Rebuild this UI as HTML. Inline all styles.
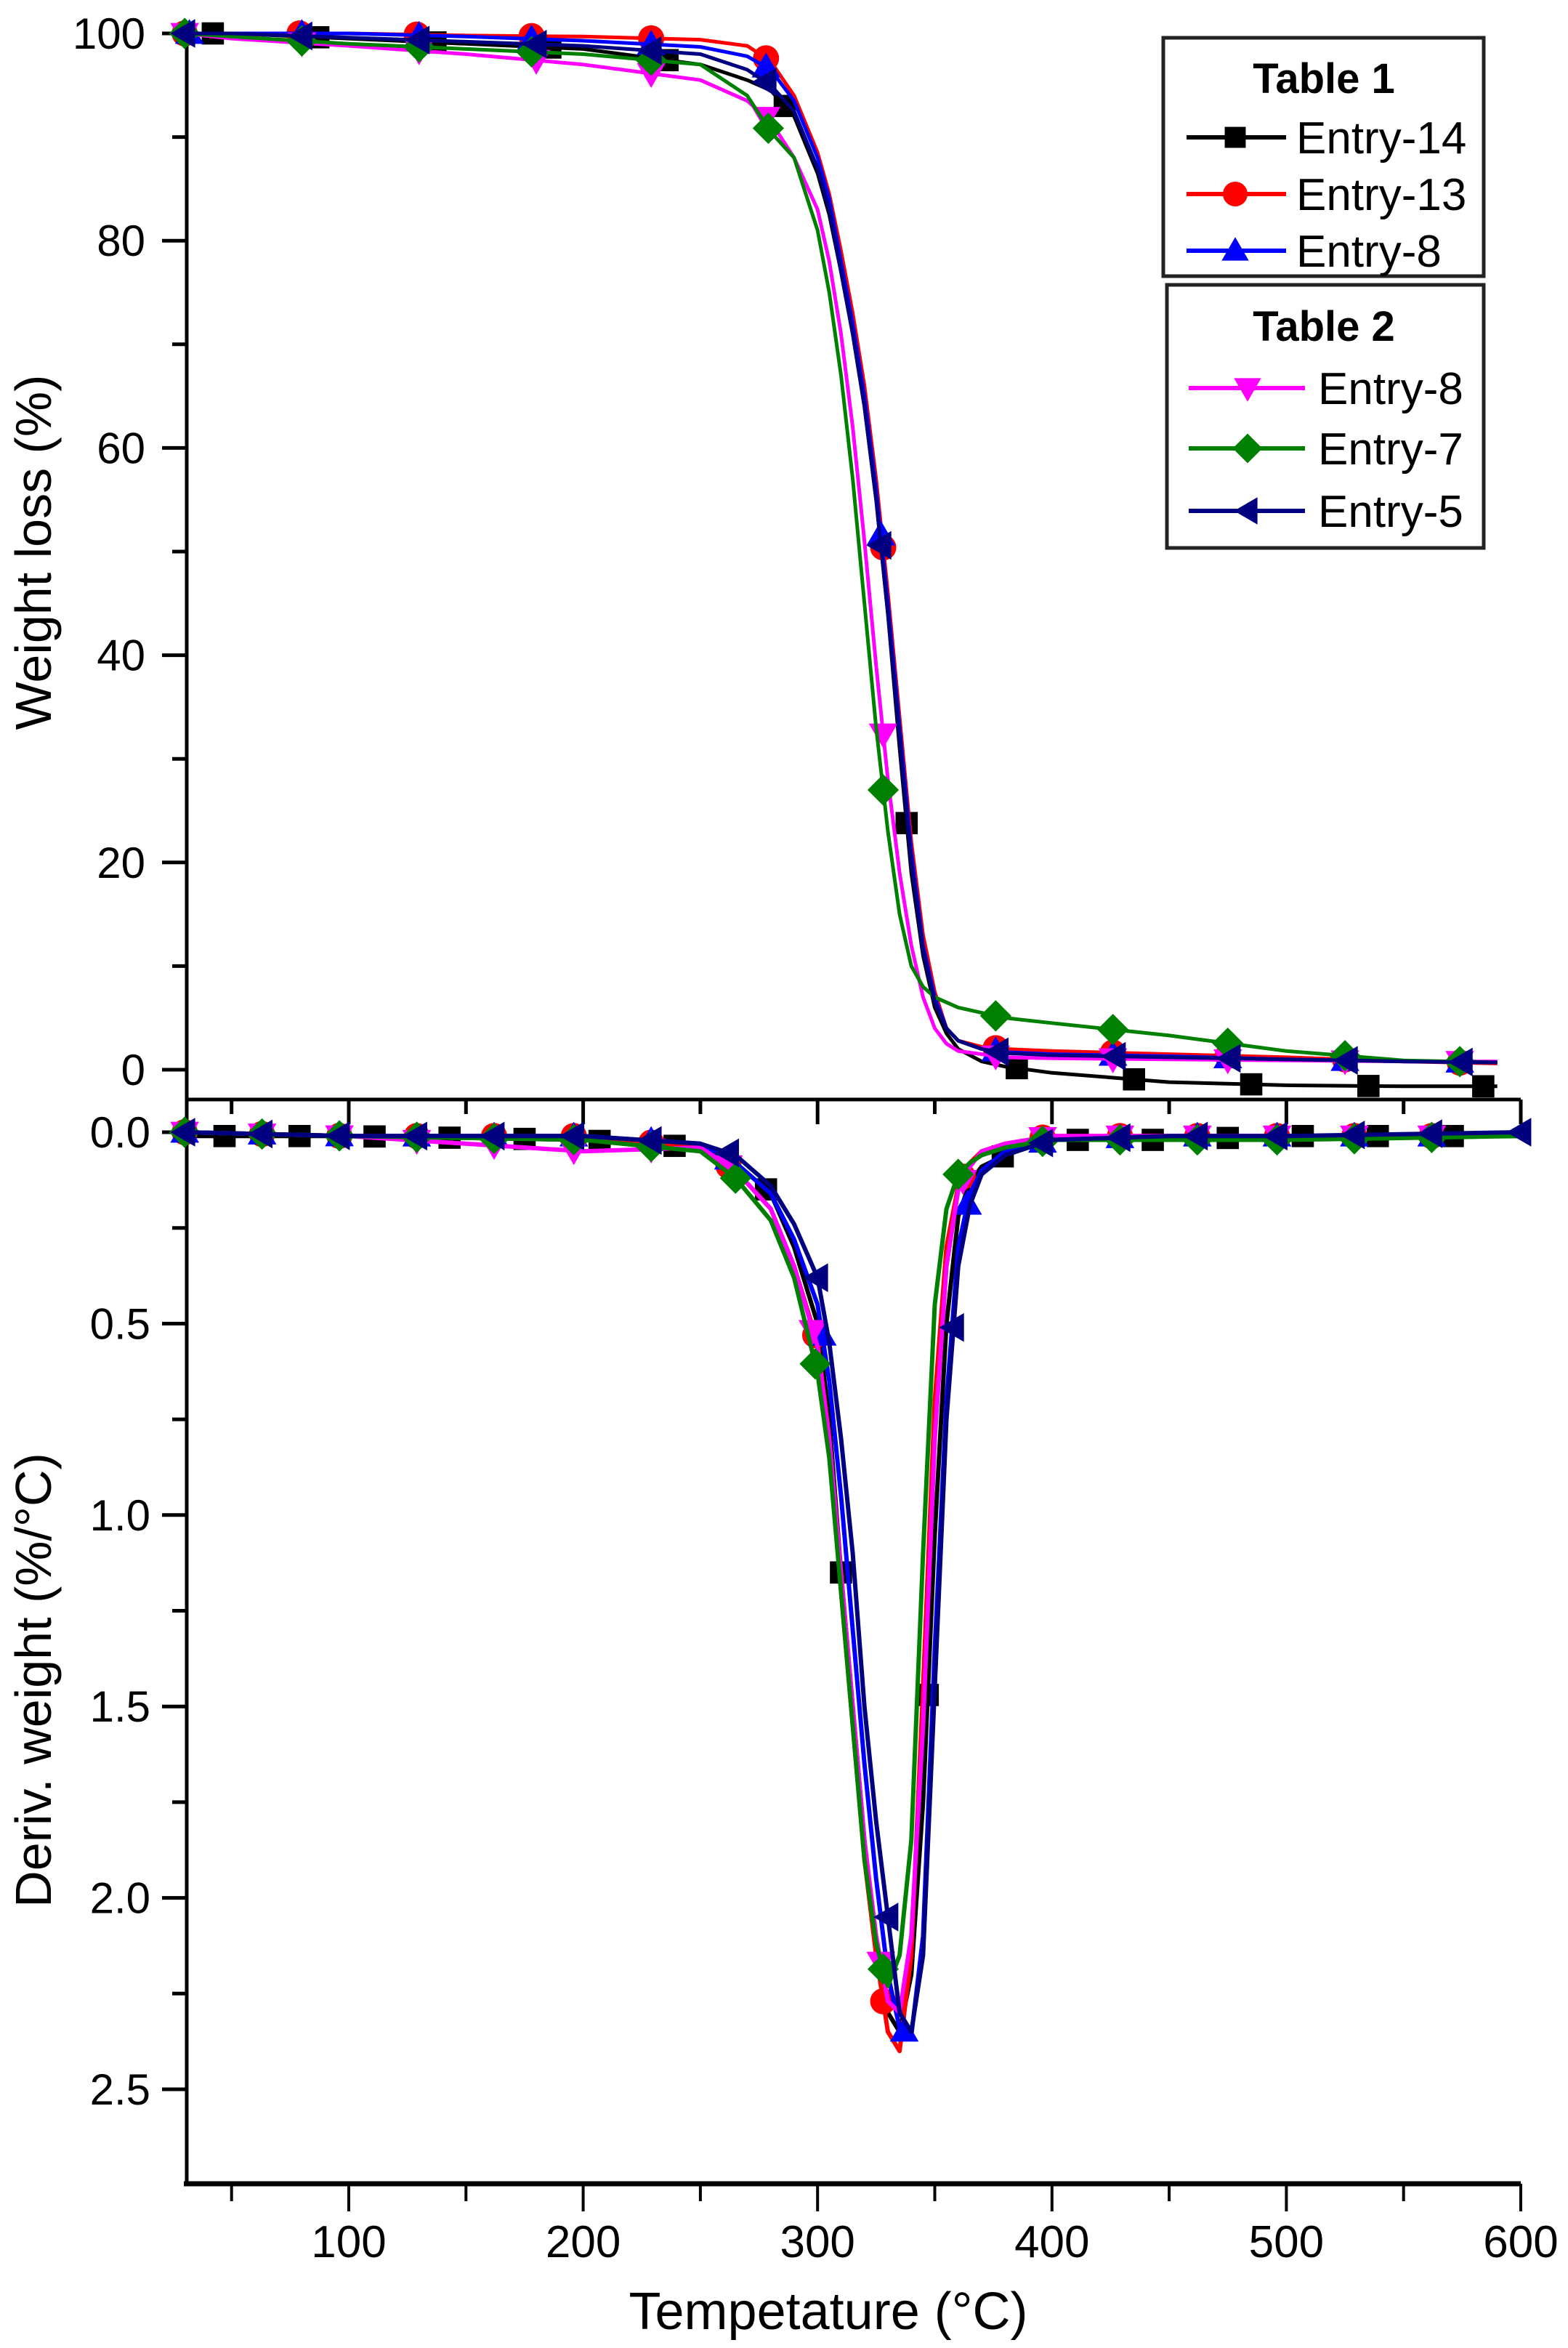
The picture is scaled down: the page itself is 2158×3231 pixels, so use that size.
<!DOCTYPE html>
<html><head><meta charset="utf-8"><style>
html,body{margin:0;padding:0;background:#fff;}
svg{display:block;font-family:"Liberation Sans",Arial,sans-serif;}
</style></head><body>
<svg id="chart" width="2158" height="3231" viewBox="0 0 2158 3231" xmlns="http://www.w3.org/2000/svg">
<g id="axes"></g>
<g id="series"></g>
<g id="legend"></g>
<text transform="translate(70,760) rotate(-90)" text-anchor="middle" font-size="70">Weight loss (%)</text>
<text transform="translate(70,2312) rotate(-90)" text-anchor="middle" font-size="70">Deriv. weight (%/°C)</text>
<text x="1140" y="3205" text-anchor="middle" font-size="72">Tempetature (°C)</text>
</svg>
<script>
// ---- data ----
const seriesNames = ["Entry-14","Entry-13","Entry-8 (T1)","Entry-8 (T2)","Entry-7","Entry-5"];
const seriesColors = ["#000000","#ff0000","#0000ff","#ff00ff","#008000","#000080"];
const seriesMarkers = ["square","circle","up","down","diamond","left"];

const tgaTemps = [30,50,100,150,200,250,270,280,290,300,305,310,315,320,325,330,335,340,345,350,355,360,370,380,400,450,500,550,590];
const tgaBlack   = [100,100,99.5,99,98.5,97,95.5,94.5,92,86.5,82.5,77,71,64,55,44,31,19,11,6,3.5,2,0.8,0.3,-0.3,-1.2,-1.5,-1.6,-1.6];
const tgaRed     = [100,100,100,99.8,99.7,99.4,98.8,97.3,94,88.5,84.5,79,73,66,57,46,34,22,13,7.5,4,2.8,2.2,2,1.8,1.5,1.2,0.8,0.6];
const tgaBlue    = [100,100,100,99.7,99.3,98.7,97.8,96.5,93.5,88,84,78,72,65,56,45,33,21,12,7,4,2.8,2,1.7,1.5,1.3,1,0.8,0.7];
const tgaMagenta = [100,99.5,98.8,98,97,95.5,93.5,91.5,88,83,78,71,62,51,39,28,19,12,7,4,2.5,1.8,1.5,1.2,1.1,1,0.9,0.8,0.8];
const tgaGreen   = [100,99.7,99,98.5,98,97,94,90.5,88,81,75,67,57,45,33,23,15,10,8,7,6.5,6,5.5,5,4.5,3.3,1.8,0.9,0.7];
const tgaNavy    = [100,100,99.6,99.2,98.8,98,96.5,95,92.5,87,83,77,71,64,55,44,32,20,11.5,6.5,4,2.8,2,1.6,1.4,1.2,1,0.8,0.7];
const tgaSeries = [tgaBlack,tgaRed,tgaBlue,tgaMagenta,tgaGreen,tgaNavy];
const tgaMarkerTemps = [
  [42,87,137,186,236,286,338,385,435,485,535,584],
  [30,79,129,178,229,278,328,376,426,475,525,574],
  [32,80,130,178,229,278,327,376,426,475,525,574],
  [30,80,130,180,229,278,328,376,426,475,525,574],
  [30,80,130,178,229,279,328,376,426,475,525,574],
  [30,80,130,180,229,278,327,377,427,476,526,575]
];

const dtgTemps = [30,100,200,250,265,280,290,300,305,310,315,320,325,330,335,340,345,350,355,360,365,370,380,400,450,500,600];
const dtgBlack   = [0.01,0.01,0.02,0.04,0.08,0.16,0.3,0.5,0.75,1.15,1.5,1.85,2.12,2.3,2.35,2.2,1.75,1.05,0.5,0.22,0.13,0.09,0.06,0.02,0.02,0.01,0.01];
const dtgRed     = [0.0,0.01,0.01,0.04,0.1,0.2,0.35,0.55,0.8,1.2,1.55,1.9,2.15,2.35,2.4,2.15,1.45,0.7,0.3,0.14,0.08,0.05,0.03,0.01,0.01,0.01,0.01];
const dtgBlue    = [0.0,0.01,0.01,0.03,0.08,0.16,0.28,0.45,0.65,0.95,1.3,1.65,1.95,2.2,2.34,2.36,2.1,1.35,0.7,0.3,0.16,0.1,0.05,0.02,0.01,0.01,0.01];
const dtgMagenta = [0.0,0.01,0.05,0.04,0.1,0.2,0.35,0.56,0.8,1.15,1.5,1.85,2.1,2.27,2.3,2.1,1.55,0.8,0.35,0.15,0.09,0.05,0.03,0.01,0.01,0.01,0.01];
const dtgGreen   = [0.0,0.01,0.02,0.05,0.12,0.23,0.38,0.63,0.85,1.2,1.55,1.9,2.12,2.23,2.15,1.85,1.1,0.45,0.2,0.11,0.08,0.06,0.04,0.02,0.02,0.02,0.01];
const dtgNavy    = [0.0,0.01,0.01,0.03,0.06,0.14,0.24,0.38,0.55,0.8,1.1,1.5,1.8,2.05,2.3,2.35,2.15,1.45,0.75,0.35,0.19,0.11,0.06,0.02,0.01,0.01,0.0];
const dtgSeries = [dtgBlack,dtgRed,dtgBlue,dtgMagenta,dtgGreen,dtgNavy];
const dtgMarkerTemps = [
  [47,79,111,143,175,207,239,278,310,347,379,411,443,475,507,539,571],
  [30,63,96,129,162,196,229,262,299,328,362,396,429,462,496,529,562],
  [30,63,96,129,162,196,229,262,302,337,364,396,429,462,496,529,562],
  [30,63,96,129,162,196,229,262,298,327,362,396,429,462,496,529,562],
  [30,63,96,129,162,196,229,265,299,328,360,396,429,462,496,529,562],
  [30,63,96,129,162,196,229,262,300,330,358,396,429,462,496,529,562,600]
];

const xTicks = [100,200,300,400,500,600];
const tgaTicks = [0,20,40,60,80,100];
const dtgTicks = ["0.0","0.5","1.0","1.5","2.0","2.5"];

// ---- scales ----
const X0 = 257, XMID = 1513, XBOT = 3005;
function sx(t){ return 480 + (t-100)*3.226; }
function syT(v){ return 1472 - v*14.26; }
function syD(v){ return 1558 + v*526.8; }

const NS = "http://www.w3.org/2000/svg";
function mk(tag, attrs, parent){
  const e = document.createElementNS(NS, tag);
  for (const k in attrs) e.setAttribute(k, attrs[k]);
  parent.appendChild(e);
  return e;
}
function interp(temps, vals, t){
  if (t <= temps[0]) return vals[0];
  for (let i=1;i<temps.length;i++){
    if (t <= temps[i]){ const f=(t-temps[i-1])/(temps[i]-temps[i-1]); return vals[i-1]+f*(vals[i]-vals[i-1]); }
  }
  return vals[vals.length-1];
}
function marker(type, x, y, color, parent, r){
  r = r || 18;
  let e;
  if (type==="square") e = mk("rect",{x:x-r*0.85,y:y-r*0.85,width:r*1.7,height:r*1.7,fill:color},parent);
  else if (type==="circle") e = mk("circle",{cx:x,cy:y,r:r,fill:color},parent);
  else if (type==="up") e = mk("polygon",{points:`${x},${y-r*1.1} ${x+r*1.1},${y+r*0.8} ${x-r*1.1},${y+r*0.8}`,fill:color},parent);
  else if (type==="down") e = mk("polygon",{points:`${x},${y+r*1.1} ${x+r*1.1},${y-r*0.8} ${x-r*1.1},${y-r*0.8}`,fill:color},parent);
  else if (type==="diamond") e = mk("polygon",{points:`${x},${y-r*1.2} ${x+r*1.2},${y} ${x},${y+r*1.2} ${x-r*1.2},${y}`,fill:color},parent);
  else e = mk("polygon",{points:`${x-r*1.1},${y} ${x+r*0.8},${y-r*1.1} ${x+r*0.8},${y+r*1.1}`,fill:color},parent);
  return e;
}

// ---- axes ----
const ax = document.getElementById("axes");
let l;
l = mk("line",{x1:X0,y1:40,x2:X0,y2:XBOT,stroke:"#000","stroke-width":5},ax);


l = mk("line",{x1:X0,y1:XMID,x2:2093,y2:XMID,stroke:"#000","stroke-width":5},ax);


l = mk("line",{x1:X0-4,y1:XBOT,x2:2093,y2:XBOT,stroke:"#000","stroke-width":7},ax);



for (let v=0; v<=100; v+=10){
  const y = syT(v), major = v%20===0;
  const t = mk("line",{x1:X0-(major?34:20),y1:y,x2:X0,y2:y,stroke:"#000","stroke-width":5},ax);
  
  
}
tgaTicks.forEach(v=>{
  const t = mk("text",{x:200,y:syT(v)+21,"text-anchor":"end","font-size":60},ax);
  t.textContent = v;
  
  
});
for (let i=0;i<=11;i++){
  const v=i*0.25, y=syD(v), major=i%2===0;
  if (y>XBOT-3) continue;
  const t = mk("line",{x1:X0-(major?34:20),y1:y,x2:X0,y2:y,stroke:"#000","stroke-width":5},ax);
  
  
}
dtgTicks.forEach(s=>{
  const t = mk("text",{x:207,y:syD(parseFloat(s))+21,"text-anchor":"end","font-size":60},ax);
  t.textContent = s;
  
  
});
for (let T=50; T<=600; T+=50){
  const x=sx(T), major=T%100===0;
  let t = mk("line",{x1:x,y1:XMID,x2:x,y2:XMID+(major?34:20),stroke:"#000","stroke-width":5},ax);
  
  
  t = mk("line",{x1:x,y1:XBOT,x2:x,y2:XBOT+(major?38:24),stroke:"#000","stroke-width":4},ax);
  
  
}
xTicks.forEach(T=>{
  const t = mk("text",{x:sx(T),y:3106,"text-anchor":"middle","font-size":62},ax);
  t.textContent = T;
  
  
});

// ---- series ----
const sg = document.getElementById("series");
const order = [0,1,2,3,4,5];
order.forEach(i=>{
  const g = mk("g",{},sg);
  
  
  const pts = tgaTemps.map((t,k)=>sx(t).toFixed(1)+","+syT(tgaSeries[i][k]).toFixed(1)).join(" ");
  const pl = mk("polyline",{points:pts,fill:"none",stroke:seriesColors[i],"stroke-width":5,"stroke-linejoin":"round"},g);
  
  
  tgaMarkerTemps[i].forEach(t=>{
    const m = marker(seriesMarkers[i], sx(t), syT(interp(tgaTemps,tgaSeries[i],t)), seriesColors[i], g);
    
    
  });
});
order.forEach(i=>{
  const g = mk("g",{},sg);
  
  
  const pts = dtgTemps.map((t,k)=>sx(t).toFixed(1)+","+syD(dtgSeries[i][k]).toFixed(1)).join(" ");
  const pl = mk("polyline",{points:pts,fill:"none",stroke:seriesColors[i],"stroke-width":6,"stroke-linejoin":"round"},g);
  
  
  dtgMarkerTemps[i].forEach(t=>{
    const m = marker(seriesMarkers[i], sx(t), syD(interp(dtgTemps,dtgSeries[i],t)), seriesColors[i], g);
    
    
  });
});

// ---- legend ----
const lg = document.getElementById("legend");
const legendLabels = ["Entry-14","Entry-13","Entry-8","Entry-8","Entry-7","Entry-5"];
const legendRowsY = [189,267,345,534,617,703];
let b = mk("rect",{x:1601,y:52,width:441,height:328,fill:"#fff",stroke:"#222","stroke-width":5},lg);


b = mk("rect",{x:1606,y:392,width:436,height:362,fill:"#fff",stroke:"#222","stroke-width":5},lg);


let tt = mk("text",{x:1822,y:128,"text-anchor":"middle","font-size":58,"font-weight":"bold"},lg);
tt.textContent = "Table 1";


tt = mk("text",{x:1822,y:469,"text-anchor":"middle","font-size":58,"font-weight":"bold"},lg);
tt.textContent = "Table 2";


legendLabels.forEach((lab,i)=>{
  const y = legendRowsY[i];
  const t1 = i<3 ? [1633,1770,1700,1784] : [1636,1796,1717,1814];
  const g = mk("g",{},lg);
  
  
  mk("line",{x1:t1[0],y1:y,x2:t1[1],y2:y,stroke:seriesColors[i],"stroke-width":6},g);
  marker(seriesMarkers[i], t1[2], y, seriesColors[i], g, 17);
  const tx = mk("text",{x:t1[3],y:y+22,"font-size":62},g);
  tx.textContent = lab;
});
</script>
</body></html>
